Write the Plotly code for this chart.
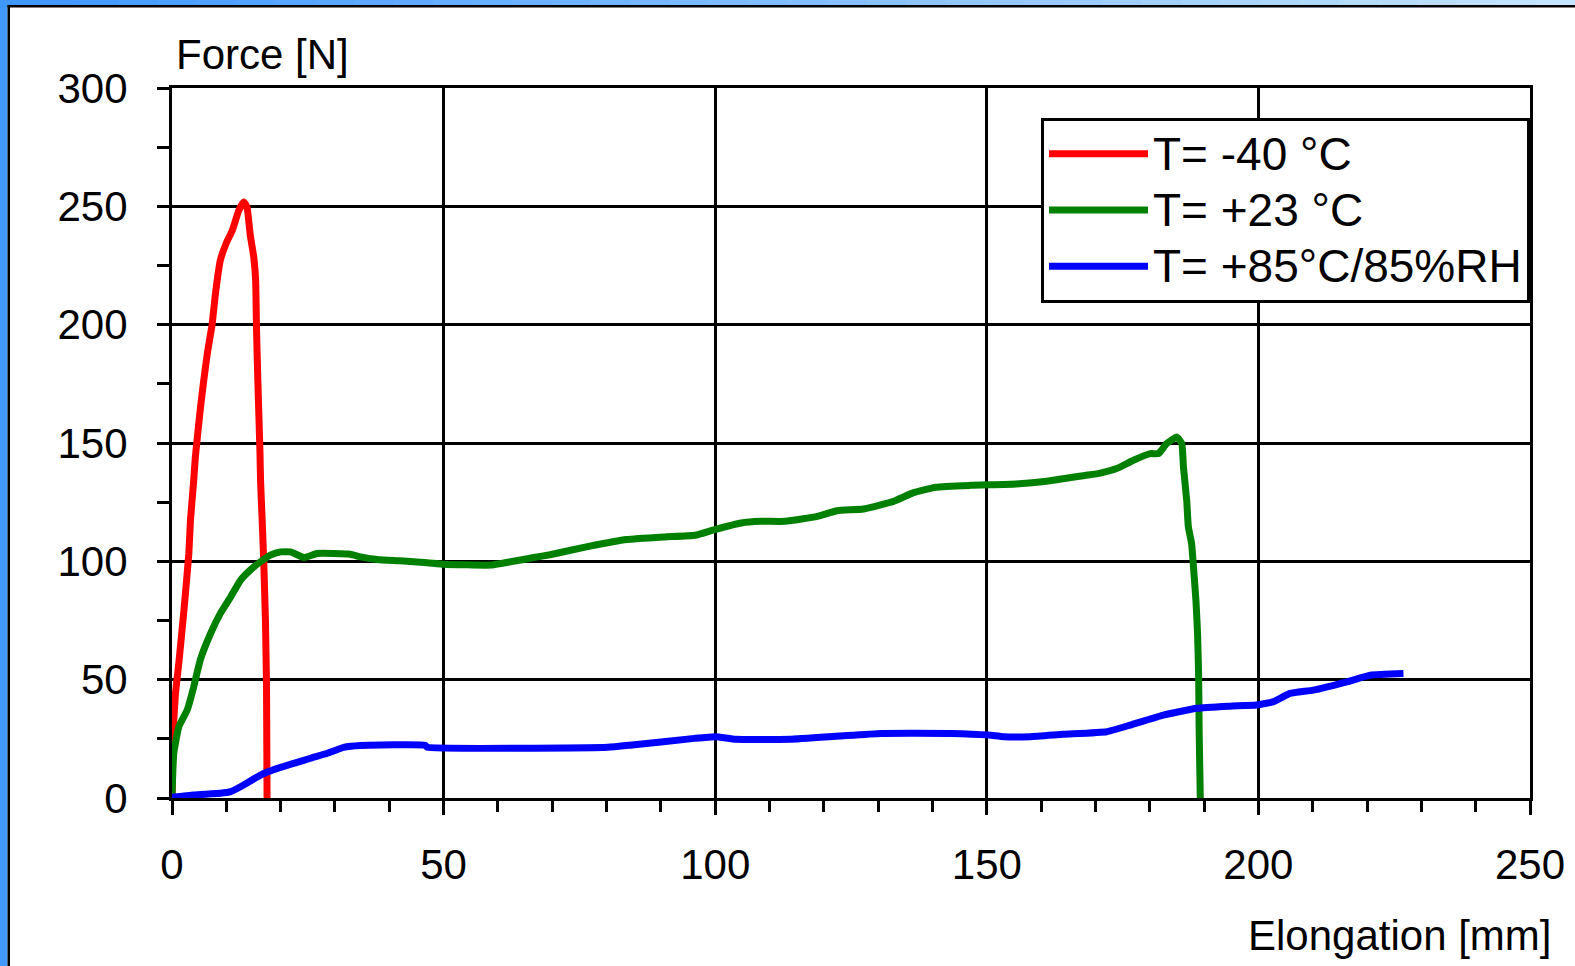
import plotly.graph_objects as go

# ---- data ----
x_m40 = [0, 0.04, 0.2, 0.64, 1.25, 2.2, 3.1, 3.4, 4.0, 4.3, 5.25, 5.85, 6.5, 7.4, 8.0, 8.9,
         10.0, 11.1, 12.3, 13.2, 13.8, 14.4, 15.05, 15.4, 15.55, 15.8, 16.2, 16.3, 16.6, 16.9,
         17.2, 17.4, 17.5]
y_m40 = [0, 4.8, 27.3, 44.2, 56.9, 79.4, 103.3, 117.4, 134.3, 144.1, 165.2, 176.5, 187.8,
         200.4, 213.1, 227.2, 234.5, 239.8, 248.3, 251.8, 249.7, 238, 228.6, 218.7, 199, 176.5,
         145.5, 134.3, 117.4, 99.1, 75.2, 47, 0]

x_p23 = [0, 0.33, 1.25, 2.8, 4.0, 5.2, 7.1, 8.9, 10.8, 12.6, 14.4, 16.3, 18.1, 20.0, 21.8,
         24.3, 26.7, 29.8, 32.8, 34.7, 37.8, 42, 47, 50, 58.6, 62.3, 66.6, 69.6, 76.7,
         83.7, 90.7, 96.3, 99.9, 104.8, 108.3, 112.9, 118.8, 122.4, 127.3, 132.9, 136.4,
         140.6, 147, 155.4, 161.0, 168.1, 170.9, 173.9, 177.0, 180.1, 181.6, 183.1, 185.0,
         185.9, 186.2, 186.8, 187.1, 187.7, 188.0, 188.5, 188.8, 189.0, 189.1, 189.3]
y_p23 = [0.5, 18.9, 30.1, 37.2, 47, 58.3, 69.5, 78, 85, 92, 96.3, 99.8, 102.6, 104, 104,
         101.6, 103.3, 103.3, 103, 101.9, 100.8, 100.2, 99.4, 98.8, 98.4, 99.8, 101.6,
         102.8, 106.3, 109.2, 110.3, 111, 113.4, 116.2, 116.9, 116.9, 119, 121.4, 122.1,
         125.4, 128.9, 131.3, 132.1, 132.7, 133.8, 136.3, 137.3, 139.2, 142.7, 145.5,
         145.5, 149.7, 152.5, 149.7, 139.9, 125.8, 114.6, 107.5, 99.1, 83.6, 69.5, 51.2,
         27.3, 0]

x_p85 = [0, 4.0, 8.9, 10.8, 13.2, 16.3, 19.4, 22.4, 25.5, 28.6, 31.6, 34.7, 46.6, 47,
         80.2, 84.7, 96.2, 100, 103.8, 113.7, 122.9, 130.5, 143.4, 150.3, 153.1, 158,
         164.1, 172.1, 176.4, 182.5, 188.7, 194.8, 199.7, 202.8, 205.8, 210.1, 216.3,
         220.6, 226.7]
y_p85 = [0.3, 1.3, 2.0, 2.7, 5.5, 9.7, 12.5, 14.6, 16.8, 18.9, 21.4, 22.2, 22.3, 21.4,
         21.4, 22.4, 25.2, 25.9, 24.8, 24.8, 26.2, 27.3, 27.3, 26.6, 25.9, 25.9, 26.9,
         28, 30.8, 35, 37.9, 38.8, 39.3, 40.7, 44.2, 45.6, 49.1, 51.9, 52.6]

series_names = ["T= -40 °C", "T= +23 °C", "T= +85°C/85%RH"]
series_colors = ["#ff0000", "#008000", "#0000ff"]

x_ticks = [0, 50, 100, 150, 200, 250]
y_ticks = [0, 50, 100, 150, 200, 250, 300]

FONT = "Liberation Sans, Arial, sans-serif"

fig = go.Figure()
for xs, ys, name, col in zip([x_m40, x_p23, x_p85], [y_m40, y_p23, y_p85],
                             series_names, series_colors):
    fig.add_trace(go.Scatter(x=xs, y=ys, mode="lines",
                             name="<span style='font-size:46px'>%s</span>" % name,
                             line=dict(color=col, width=7, shape="spline", smoothing=0.4)))

W, H = 1575, 966
L, R, T, B = 172, 45, 88, 168
PW, PH = W - L - R, H - T - B


def px2x(px):
    return (px - L) / PW


def py2y(py):
    return (H - B - py) / PH


shapes = []
# gradient top strip of the frame
nseg = 40
c0 = (64, 152, 255)
c1 = (196, 228, 255)
for i in range(nseg):
    f = i / (nseg - 1)
    col = "rgb(%d,%d,%d)" % tuple(int(c0[k] + (c1[k] - c0[k]) * f) for k in range(3))
    shapes.append(dict(type="rect", xref="paper", yref="paper",
                       x0=px2x(W * i / nseg), x1=px2x(W * (i + 1) / nseg + 1),
                       y0=py2y(5), y1=py2y(0), fillcolor=col, line=dict(width=0),
                       layer="below"))
# left strip
shapes.append(dict(type="rect", xref="paper", yref="paper",
                   x0=px2x(0), x1=px2x(7.5), y0=py2y(H), y1=py2y(0),
                   fillcolor="rgb(64,152,255)", line=dict(width=0), layer="below"))
# black inner frame lines
shapes.append(dict(type="rect", xref="paper", yref="paper",
                   x0=px2x(7.5), x1=px2x(W), y0=py2y(7.5), y1=py2y(5),
                   fillcolor="black", line=dict(width=0), layer="below"))
shapes.append(dict(type="rect", xref="paper", yref="paper",
                   x0=px2x(7.5), x1=px2x(10), y0=py2y(H), y1=py2y(5),
                   fillcolor="black", line=dict(width=0), layer="below"))

annotations = [
    dict(text="Force [N]", xref="paper", yref="paper", x=px2x(174), y=py2y(54),
         xanchor="left", yanchor="middle", showarrow=False,
         font=dict(family=FONT, size=42, color="black")),
    dict(text="Elongation [mm]", xref="paper", yref="paper", x=px2x(1553), y=py2y(935),
         xanchor="right", yanchor="middle", showarrow=False,
         font=dict(family=FONT, size=42, color="black")),
]

fig.update_layout(
    width=W, height=H,
    margin=dict(l=L, r=R, t=T, b=B, autoexpand=False),
    paper_bgcolor="white", plot_bgcolor="white",
    font=dict(family=FONT, color="black"),
    showlegend=True,
    legend=dict(x=1, xanchor="right", y=py2y(117.5), yanchor="top",
                bgcolor="white", bordercolor="black", borderwidth=3,
                font=dict(family=FONT, size=41, color="black"),
                itemwidth=99, tracegroupgap=0),
    shapes=shapes,
    annotations=annotations,
    xaxis=dict(range=[0, 250], tickvals=x_ticks, ticktext=[str(v) for v in x_ticks],
               showgrid=True, gridcolor="black", gridwidth=3,
               showline=True, linecolor="black", linewidth=3, mirror=True,
               zeroline=False, ticks="outside", ticklen=14, tickwidth=3,
               tickcolor="black", ticklabelstandoff=14,
               minor=dict(dtick=10, ticks="outside", ticklen=11, tickwidth=3,
                          tickcolor="black", showgrid=False),
               tickfont=dict(family=FONT, size=42, color="black")),
    yaxis=dict(range=[0, 300], tickvals=y_ticks, ticktext=[str(v) for v in y_ticks],
               showgrid=True, gridcolor="black", gridwidth=3,
               showline=True, linecolor="black", linewidth=3, mirror=True,
               zeroline=False, ticks="outside", ticklen=12, tickwidth=3,
               tickcolor="black", ticklabelstandoff=21,
               minor=dict(dtick=25, ticks="outside", ticklen=12, tickwidth=3,
                          tickcolor="black", showgrid=False),
               tickfont=dict(family=FONT, size=42, color="black")),
)

fig.write_html("out.html",
               config={"displayModeBar": False},
               post_script="document.body.style.margin='0px';"
                           "document.body.style.overflow='hidden';")
